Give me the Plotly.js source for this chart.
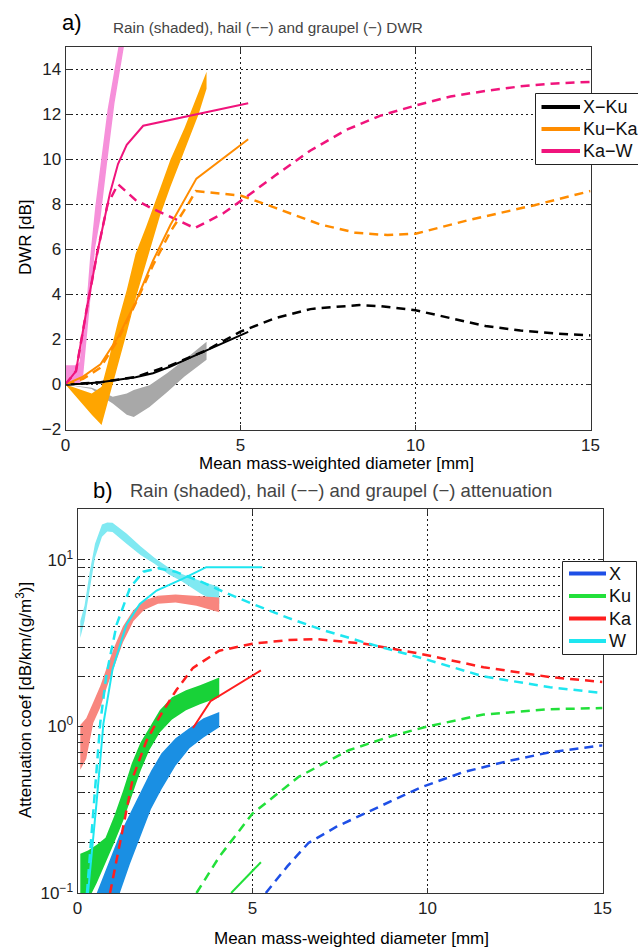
<!DOCTYPE html>
<html>
<head>
<meta charset="utf-8">
<script src="https://cdn.plot.ly/plotly-3.0.1.min.js"></script>
<style>html,body{margin:0;padding:0;background:#fff;}#chart{width:638px;height:947px;}</style>
</head>
<body>
<div id="chart"></div>
<script>
// ---------- Panel a) DWR [dB] ----------
const xkuBandX  = [0, 0.75, 1.0, 1.35, 1.75, 1.95, 2.4, 2.9, 3.4, 4.03];
const xkuBandHi = [0, -0.15, -0.3, -0.55, -0.4, -0.25, -0.03, 0.5, 1.1, 1.9];
const xkuBandLo = [0, -0.2, -0.5, -0.85, -1.35, -1.45, -1.0, -0.35, 0.35, 1.1];

const kukaBandX  = [0, 0.3, 0.75, 1.03, 1.2, 1.5, 1.75, 2.0, 2.3, 2.7, 3.0, 3.4, 3.8, 4.03];
const kukaBandHi = [0, -0.15, -0.4, -0.1, 0.9, 2.8, 4.2, 5.8, 7.0, 8.7, 10.0, 11.4, 13.0, 13.9];
const kukaBandLo = [0, -0.55, -1.35, -1.8, -0.85, 0.85, 2.3, 3.8, 5.45, 7.5, 8.8, 10.4, 12.0, 13.15];

const kawBandX  = [0, 0.3, 0.4, 0.5, 0.6, 0.7, 0.85, 1.0, 1.2, 1.4, 1.55, 1.7];
const kawBandHi = [0.86, 0.86, 1.0, 2.3, 3.6, 5.6, 7.9, 9.75, 12.2, 14.0, 15.4, 16.7];
const kawBandLo = [0, 0, 0.05, 0.3, 1.8, 3.6, 6.1, 7.4, 10.0, 12.5, 13.9, 15.3];

const xkuGrX = [0, 0.5, 1.0, 1.5, 2.0, 2.5, 3.0, 3.5, 4.0, 4.7, 5.22];
const xkuGrY = [0, 0.03, 0.1, 0.2, 0.32, 0.5, 0.8, 1.15, 1.5, 2.0, 2.34];
const xkuHlX = [0, 1, 2, 3, 4, 5, 6, 7, 7.3, 8.4, 9, 10, 11, 12, 13, 14, 15];
const xkuHlY = [0, 0.1, 0.33, 0.85, 1.5, 2.35, 2.95, 3.35, 3.4, 3.53, 3.48, 3.3, 2.95, 2.6, 2.4, 2.27, 2.18];

const kukaGrX = [0, 0.5, 1.0, 1.5, 2.0, 2.5, 3.0, 3.74, 5.22];
const kukaGrY = [0, 0.35, 0.9, 2.1, 3.65, 5.5, 7.1, 9.15, 10.9];
const kukaHlX = [0, 0.5, 1.0, 1.5, 2.0, 2.5, 3.0, 3.5, 3.72, 4.0, 5.0, 6.0, 7.26, 8.3, 9.2, 10.0, 11.5, 13.4, 15];
const kukaHlY = [0, 0.25, 0.75, 2.0, 3.6, 5.3, 6.8, 8.0, 8.6, 8.55, 8.4, 7.85, 7.12, 6.74, 6.64, 6.7, 7.3, 7.97, 8.6];

const kawGrX = [0, 0.3, 0.6, 0.9, 1.27, 1.5, 1.75, 2.22, 5.22];
const kawGrY = [0, 0.6, 3.3, 5.8, 8.5, 9.8, 10.65, 11.5, 12.5];
const kawHlX = [0, 0.3, 0.6, 0.9, 1.2, 1.5, 2.0, 2.5, 3.0, 3.69, 4.5, 5.0, 6.0, 7.0, 8.0, 9.0, 10, 11, 12, 13, 14, 15];
const kawHlY = [0, 0.6, 3.3, 5.8, 8.0, 8.9, 8.2, 7.8, 7.45, 6.95, 7.6, 8.15, 9.3, 10.4, 11.3, 11.95, 12.4, 12.8, 13.05, 13.25, 13.38, 13.45];

const dwrLegendNames = ['X\u2212Ku', 'Ku\u2212Ka', 'Ka\u2212W'];
const dwrTickVals = [-2, 0, 2, 4, 6, 8, 10, 12, 14];
const diamTickVals = [0, 5, 10, 15];

// ---------- Panel b) Attenuation coef [dB/km/(g/m3)] ----------
const xBandX  = [0.55, 0.75, 0.93, 1.21, 1.5, 1.8, 2.1, 2.4, 2.8, 3.2, 3.6, 4.05];
const xBandHi = [0.1, 0.127, 0.157, 0.225, 0.3, 0.4, 0.54, 0.69, 0.85, 0.98, 1.12, 1.22];
const xBandLo = [0.08, 0.08, 0.08, 0.1, 0.15, 0.22, 0.32, 0.42, 0.58, 0.74, 0.86, 0.99];

const kuBandX  = [0.08, 0.3, 0.55, 0.8, 1.05, 1.3, 1.55, 1.8, 2.05, 2.35, 2.7, 3.1, 3.5, 4.05];
const kuBandHi = [0.172, 0.18, 0.195, 0.215, 0.29, 0.41, 0.6, 0.8, 0.98, 1.25, 1.5, 1.65, 1.77, 1.97];
const kuBandLo = [0.05, 0.09, 0.115, 0.15, 0.2, 0.27, 0.38, 0.54, 0.72, 0.92, 1.1, 1.25, 1.36, 1.5];

const kaBandX  = [0.08, 0.25, 0.45, 0.65, 0.85, 1.05, 1.3, 1.6, 1.9, 2.3, 2.8, 3.4, 4.05];
const kaBandHi = [1.02, 1.12, 1.4, 1.75, 2.3, 3.0, 4.0, 5.0, 5.7, 6.1, 6.2, 6.1, 5.95];
const kaBandLo = [0.55, 0.64, 1.05, 1.3, 1.75, 2.3, 3.2, 4.3, 5.0, 5.45, 5.55, 5.3, 4.85];

const wBandX  = [0.08, 0.2, 0.35, 0.5, 0.7, 0.85, 1.0, 1.2, 1.4, 1.8, 2.2, 2.6, 3.0, 3.5, 4.05];
const wBandHi = [4.3, 5.3, 8.5, 12.5, 16.3, 16.8, 16.7, 15.5, 14.4, 12.1, 10.3, 9.0, 8.2, 7.5, 6.87];
const wBandLo = [3.4, 4.3, 6.8, 10.3, 13.8, 14.8, 14.7, 13.6, 12.5, 10.7, 9.5, 8.2, 7.4, 6.3, 5.46];

const xHlX = [5.38, 6.0, 6.6, 7.4, 8.2, 9.0, 9.8, 11.0, 12.3, 13.5, 15];
const xHlY = [0.1, 0.145, 0.2, 0.25, 0.3, 0.36, 0.43, 0.53, 0.62, 0.7, 0.77];

const kuGrX = [4.39, 5.24];
const kuGrY = [0.1, 0.153];
const kuHlX = [3.4, 4.05, 5.0, 6.33, 7.75, 9.0, 10.0, 11.6, 13.5, 15];
const kuHlY = [0.1, 0.165, 0.3, 0.5, 0.72, 0.88, 1.0, 1.18, 1.27, 1.29];

const kaGrX = [3.3, 3.8, 5.24];
const kaGrY = [0.98, 1.42, 2.17];
const kaHlX = [0.93, 1.21, 1.59, 1.97, 2.35, 2.82, 3.3, 4.05, 5.0, 6.0, 6.8, 8.2, 9.8, 11.6, 13.5, 15];
const kaHlY = [0.1, 0.2, 0.5, 0.82, 1.15, 1.65, 2.25, 2.85, 3.14, 3.3, 3.35, 3.14, 2.73, 2.27, 1.98, 1.85];

const wGrX = [0.3, 0.42, 0.55, 0.74, 1.0, 1.4, 1.78, 2.26, 3.0, 3.68, 5.28];
const wGrY = [0.1, 0.18, 0.36, 1.04, 2.2, 4.1, 5.45, 6.55, 7.7, 9.05, 9.05];
const wHlX = [0.27, 0.41, 0.55, 0.65, 0.83, 1.12, 1.5, 1.88, 2.3, 2.8, 3.5, 4.2, 5.0, 6.0, 7.0, 8.3, 9.9, 11.6, 13.5, 15];
const wHlY = [0.1, 0.23, 0.57, 1.05, 2.07, 4.1, 6.8, 8.5, 8.9, 8.5, 7.45, 6.4, 5.45, 4.5, 3.8, 3.15, 2.55, 2.0, 1.72, 1.59];

const attLegendNames = ['X', 'Ku', 'Ka', 'W'];
const attDecadeVals = [0.1, 1, 10];
const attDecadeText = ['10<sup>\u22121</sup>', '10<sup>0</sup>', '10<sup>1</sup>'];

// ---------- helpers ----------
const FONT = 'Liberation Sans, Arial, Helvetica, sans-serif';
function band(xs, hi, lo, color, xa, ya) {
  return {
    x: xs.concat(xs.slice().reverse()),
    y: hi.concat(lo.slice().reverse()),
    xaxis: xa, yaxis: ya, type: 'scatter', mode: 'lines',
    fill: 'toself', fillcolor: color, line: {width: 0, color: color},
    showlegend: false, hoverinfo: 'skip'
  };
}
function line(xs, ys, color, width, dash, xa, ya) {
  return {
    x: xs, y: ys, xaxis: xa, yaxis: ya, type: 'scatter', mode: 'lines',
    line: {color: color, width: width, dash: dash || 'solid'},
    showlegend: false, hoverinfo: 'skip'
  };
}

const C = {
  gray: '#a8a8a8', orangeBand: '#ffa500', pinkBand: '#f690da',
  black: '#000000', orange: '#ff8c00', magenta: '#f0147c',
  blueBand: '#1a8fe3', greenBand: '#18d238', salmon: '#f8867e', lcyan: '#80e9f2',
  blue: '#1e4fe6', green: '#22e03a', red: '#ff1f1f', cyan: '#1ee6f0'
};
const DASH = '9px,6px';

const traces = [
  band(xkuBandX, xkuBandHi, xkuBandLo, C.gray, 'x', 'y'),
  band(kukaBandX, kukaBandHi, kukaBandLo, C.orangeBand, 'x', 'y'),
  band(kawBandX, kawBandHi, kawBandLo, C.pinkBand, 'x', 'y'),
  line(xkuHlX, xkuHlY, C.black, 2.5, DASH, 'x', 'y'),
  line(kukaHlX, kukaHlY, C.orange, 2.5, DASH, 'x', 'y'),
  line(kawHlX, kawHlY, C.magenta, 2.5, DASH, 'x', 'y'),
  line(xkuGrX, xkuGrY, C.black, 2, null, 'x', 'y'),
  line(kukaGrX, kukaGrY, C.orange, 2, null, 'x', 'y'),
  line(kawGrX, kawGrY, C.magenta, 2, null, 'x', 'y'),

  band(wBandX, wBandHi, wBandLo, C.lcyan, 'x2', 'y2'),
  band(kaBandX, kaBandHi, kaBandLo, C.salmon, 'x2', 'y2'),
  band(kuBandX, kuBandHi, kuBandLo, C.greenBand, 'x2', 'y2'),
  band(xBandX, xBandHi, xBandLo, C.blueBand, 'x2', 'y2'),
  line(kaGrX, kaGrY, C.red, 2, null, 'x2', 'y2'),
  line(kuGrX, kuGrY, C.green, 2, null, 'x2', 'y2'),
  line(wGrX, wGrY, C.cyan, 2, null, 'x2', 'y2'),
  line(xHlX, xHlY, C.blue, 2.5, DASH, 'x2', 'y2'),
  line(kuHlX, kuHlY, C.green, 2.5, DASH, 'x2', 'y2'),
  line(kaHlX, kaHlY, C.red, 2.5, DASH, 'x2', 'y2'),
  line(wHlX, wHlY, C.cyan, 2.5, DASH, 'x2', 'y2')
];

const attTickVals = [], attTickText = [];
attDecadeVals.forEach((d, i) => {
  for (let k = 1; k <= 9; k++) {
    const v = +(k * d).toPrecision(3);
    if (v > 20.3) break;
    attTickVals.push(v);
    attTickText.push(k === 1 ? attDecadeText[i] : ' ');
  }
});

const W = 638, H = 947;
const px = v => v / W, py = v => 1 - v / H;

const axCommon = {
  zeroline: false, showline: true, linecolor: '#333', linewidth: 1, mirror: 'ticks',
  ticks: 'inside', ticklen: 5, tickcolor: '#333',
  tickfont: {family: FONT, size: 17, color: '#222'},
  showgrid: true, gridcolor: '#1a1a1a', griddash: '2px,3px', gridwidth: 1
};

const shapes = [], annotations = [];
function buildLegend(names, colors, box, y0, dy, lx0, lx1, tx) {
  shapes.push({type: 'rect', xref: 'paper', yref: 'paper', x0: px(box[0]), x1: px(box[2]), y0: py(box[1]), y1: py(box[3]),
    line: {color: '#222', width: 1}, fillcolor: '#fff', layer: 'above'});
  names.forEach((n, i) => {
    const yy = py(y0 + i * dy);
    shapes.push({type: 'line', xref: 'paper', yref: 'paper', x0: px(lx0), x1: px(lx1), y0: yy, y1: yy,
      line: {color: colors[i], width: 4}, layer: 'above'});
    annotations.push({text: n, x: px(tx), y: yy, xanchor: 'left', yanchor: 'middle', font: {size: 18, color: '#111'}});
  });
}
buildLegend(dwrLegendNames, [C.black, C.orange, C.magenta], [535.5, 93.5, 645, 164.5], 107, 22, 541.5, 580, 581);
buildLegend(attLegendNames, [C.blue, C.green, C.red, C.cyan], [562.5, 561.5, 636.5, 654.5], 573.5, 22.5, 569, 606, 607);

annotations.push(
  {text: 'a)', x: px(72), y: py(23), font: {size: 22, color: '#000'}},
  {text: 'Rain (shaded), hail (\u2212\u2212) and graupel (\u2212) DWR', x: px(268), y: py(27), font: {size: 15.3, color: '#444'}},
  {text: 'Mean mass-weighted diameter [mm]', x: px(336), y: py(463), font: {size: 17, color: '#000'}},
  {text: 'DWR [dB]', x: px(26), y: py(237), textangle: -90, font: {size: 17, color: '#000'}},
  {text: 'b)', x: px(103), y: py(490), font: {size: 22, color: '#000'}},
  {text: 'Rain (shaded), hail (\u2212\u2212) and graupel (\u2212) attenuation', x: px(340.5), y: py(490), font: {size: 18.5, color: '#444'}},
  {text: 'Mean mass-weighted diameter [mm]', x: px(351.5), y: py(938), font: {size: 17, color: '#000'}},
  {text: 'Attenuation coef [dB/km/(g/m<sup>3</sup>)]', x: px(24), y: py(700), textangle: -90, font: {size: 17, color: '#000'}}
);

const layout = {
  width: W, height: H,
  margin: {l: 0, r: 0, t: 0, b: 0},
  paper_bgcolor: '#fff', plot_bgcolor: '#fff',
  font: {family: FONT},
  showlegend: false,
  xaxis: Object.assign({}, axCommon, {domain: [px(65.5), px(590.5)], range: [0, 15], tickvals: diamTickVals, anchor: 'y'}),
  yaxis: Object.assign({}, axCommon, {domain: [py(429.5), py(47)], range: [-2, 15], tickvals: dwrTickVals, anchor: 'x'}),
  xaxis2: Object.assign({}, axCommon, {domain: [px(77.5), px(602.5)], range: [0, 15], tickvals: diamTickVals, anchor: 'y2'}),
  yaxis2: Object.assign({}, axCommon, {type: 'log', domain: [py(893), py(509)], range: [-1, 1.306],
    tickvals: attTickVals, ticktext: attTickText, anchor: 'x2'}),
  shapes: shapes,
  annotations: annotations.map(a => Object.assign({xref: 'paper', yref: 'paper', showarrow: false, xanchor: 'center', yanchor: 'middle'}, a, {font: Object.assign({family: FONT}, a.font)}))
};

Plotly.newPlot('chart', traces, layout, {displayModeBar: false, staticPlot: true});
</script>
</body>
</html>
